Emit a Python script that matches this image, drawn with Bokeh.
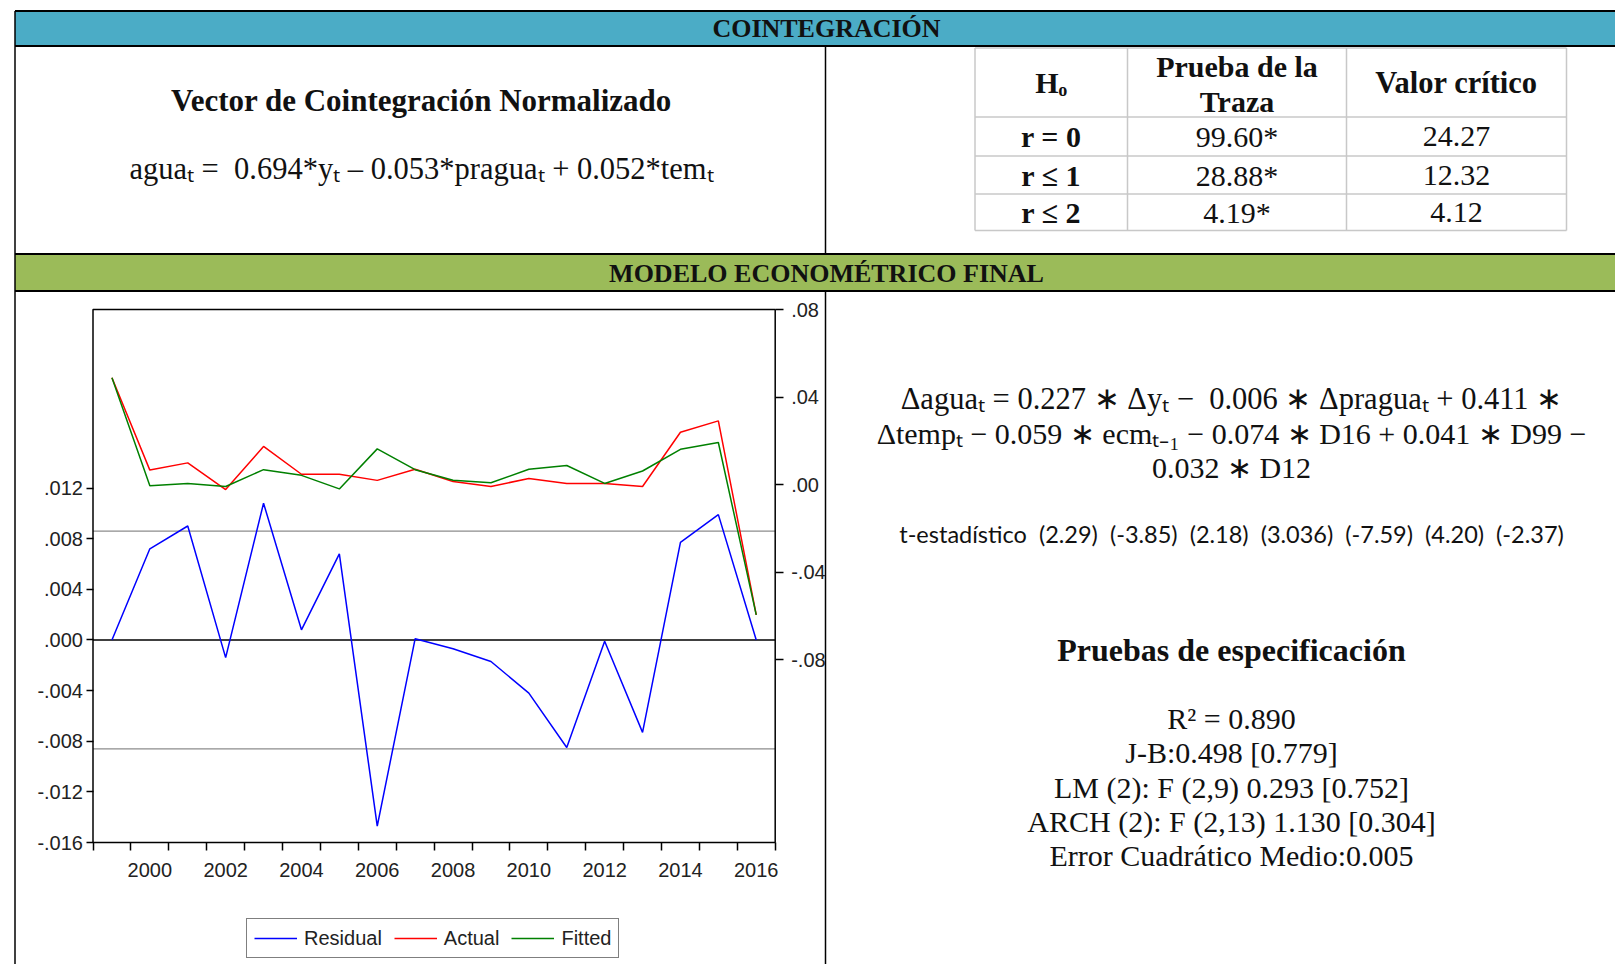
from bokeh.plotting import figure
from bokeh.models import (Range1d, LinearAxis, FixedTicker, CustomJSTickFormatter,
                          Label, Legend, LegendItem, BoxAnnotation)
from bokeh.embed import file_html
from bokeh.resources import INLINE

# ---------------- data ----------------
years = [1999, 2000, 2001, 2002, 2003, 2004, 2005, 2006, 2007, 2008,
         2009, 2010, 2011, 2012, 2013, 2014, 2015, 2016]
residual = [0.0000, 0.0072, 0.0090, -0.0014, 0.0108, 0.0008, 0.0068, -0.0147, 0.0001,
            -0.0007, -0.0017, -0.0042, -0.0085, -0.0001, -0.0073, 0.0077, 0.0099, 0.0000]
actual = [0.0488, 0.0066, 0.0099, -0.0023, 0.0174, 0.0047, 0.0047, 0.0019, 0.0070,
          0.0014, -0.0009, 0.0028, 0.0005, 0.0005, -0.0009, 0.0239, 0.0291, -0.0596]
fitted = [0.0488, -0.0005, 0.0005, -0.0009, 0.0068, 0.0042, -0.0020, 0.0163, 0.0068,
          0.0020, 0.0008, 0.0070, 0.0087, 0.0005, 0.0062, 0.0161, 0.0192, -0.0596]
resid_se = 0.0086
series_names = ["Residual", "Actual", "Fitted"]

res_ticks = [-0.016, -0.012, -0.008, -0.004, 0.0, 0.004, 0.008, 0.012]
res_tick_labels = ["-.016", "-.012", "-.008", "-.004", ".000", ".004", ".008", ".012"]
act_ticks = [-0.08, -0.04, 0.0, 0.04, 0.08]
act_tick_labels = ["-.08", "-.04", ".00", ".04", ".08"]
year_labels = [2000, 2002, 2004, 2006, 2008, 2010, 2012, 2014, 2016]

h0_labels = ["r = 0", "r \u2264 1", "r \u2264 2"]
trace_stats = ["99.60*", "28.88*", "4.19*"]
crit_values = ["24.27", "12.32", "4.12"]
t_stats = ["2.29", "-3.85", "2.18", "3.036", "-7.59", "4.20", "-2.37"]
spec_tests = ["R\u00b2 = 0.890", "J-B:0.498 [0.779]", "LM (2): F (2,9) 0.293 [0.752]",
              "ARCH (2): F (2,13) 1.130 [0.304]", "Error Cuadr\u00e1tico Medio:0.005"]

# ---------------- layout constants (page pixels) ----------------
W, H = 1615, 964
X0, Y0 = 0, 0
LEFT, RIGHT, DIV = 14.5, X0 + W, 825
B1_T, B1_B = 10.5, 45.5
B2_T, B2_B = 253.5, 290.5
BOTTOM = Y0 + H

SERIF = "Liberation Serif"
SANS = "Liberation Sans"

# chart frame in page pixels and its value ranges
CH_L, CH_R, CH_T, CH_B = 92.5, 774.7, 309.0, 842.0
YR_LO, YR_HI = 1998.5, 2016.5
RES_LO, RES_HI = -0.016, 0.0261
ACT_LO, ACT_HI = -0.1636, 0.08


def frame_range(lo, hi, p_lo, p_hi, c_lo, c_hi):
    u = (hi - lo) / (p_hi - p_lo)
    return Range1d(start=lo + (c_lo - p_lo) * u, end=lo + (c_hi - p_lo) * u)


p = figure(width=W, height=H, x_range=Range1d(X0, X0 + W), y_range=Range1d(Y0 + H, Y0),
           x_axis_type=None, y_axis_type=None, output_backend="svg",
           toolbar_location=None, min_border=0, outline_line_color=None,
           background_fill_color="white", border_fill_color="white")

p.extra_x_ranges = {"yr": frame_range(YR_LO, YR_HI, CH_L, CH_R, X0, X0 + W)}
p.extra_y_ranges = {
    "res": frame_range(RES_LO, RES_HI, CH_B, CH_T, Y0 + H, Y0),
    "act": frame_range(ACT_LO, ACT_HI, CH_B, CH_T, Y0 + H, Y0),
}

# ---------------- table structure ----------------
p.quad(left=[LEFT, LEFT], right=[RIGHT, RIGHT], top=[B1_T, B2_T], bottom=[B1_B, B2_B],
       fill_color=["#4BACC6", "#9BBB59"], line_color=None)
p.segment(x0=[LEFT] * 4, x1=[RIGHT] * 4, y0=[B1_T, B1_B, B2_T, B2_B], y1=[B1_T, B1_B, B2_T, B2_B],
          line_color="black", line_width=2)
p.segment(x0=[LEFT, DIV, DIV], x1=[LEFT, DIV, DIV], y0=[B1_T, B1_B, B2_B], y1=[BOTTOM, B2_T, BOTTOM],
          line_color="black", line_width=1.5)

# small cointegration table
TX = [974.5, 1127, 1346, 1566]
TY = [47.5, 116.5, 155.5, 193.5, 230]
p.segment(x0=[TX[0]] * len(TY), x1=[TX[-1]] * len(TY), y0=TY, y1=TY, line_color="#C8C8C8", line_width=1.5)
p.segment(x0=TX, x1=TX, y0=[TY[0]] * len(TX), y1=[TY[-1]] * len(TX), line_color="#C8C8C8", line_width=1.5)


def txt(x, y, text, size, style="normal", font=SERIF, align="center", color="#111111"):
    p.add_layout(Label(x=x, y=y, text=text, text_font=font, text_font_size=f"{size}px",
                       text_font_style=style, text_align=align, text_baseline="middle",
                       text_color=color))


txt(826, 28, "COINTEGRACI\u00d3N", 26, "bold")
txt(826, 273, "MODELO ECONOM\u00c9TRICO FINAL", 26, "bold")

txt(421, 100, "Vector de Cointegraci\u00f3n Normalizado", 31, "bold")
txt(421, 168, "agua\u209c =\u00a0 0.694*y\u209c \u2013 0.053*pragua\u209c + 0.052*tem\u209c", 30.5)

cx = [(TX[i] + TX[i + 1]) / 2 for i in range(3)]
txt(cx[0], 82, "H\u2092", 30, "bold")
txt(cx[1], 66, "Prueba de la", 30, "bold")
txt(cx[1], 101, "Traza", 30, "bold")
txt(cx[2], 82, "Valor cr\u00edtico", 30.5, "bold")
row_y = [(TY[i] + TY[i + 1]) / 2 for i in range(1, 4)]
for ry, h0, ts, cv in zip(row_y, h0_labels, trace_stats, crit_values):
    txt(cx[0], ry, h0, 30, "bold")
    txt(cx[1], ry, ts, 30)
    txt(cx[2], ry, cv, 30)

# right lower cell
RC = 1231
txt(RC, 398, "\u0394agua\u209c = 0.227 \u2217 \u0394y\u209c \u2212\u00a0 0.006 \u2217 \u0394pragua\u209c + 0.411 \u2217", 30.5)
txt(RC, 433, "\u0394temp\u209c \u2212 0.059 \u2217 ecm\u209c\u208b\u2081 \u2212 0.074 \u2217 D16 + 0.041 \u2217 D99 \u2212", 30)
txt(RC, 467, "0.032 \u2217 D12", 30)
txt(RC, 533, "t-estad\u00edstico\u00a0 " + "\u00a0 ".join(f"({t})" for t in t_stats), 23.5, font="Lato")
txt(RC, 649, "Pruebas de especificaci\u00f3n", 32, "bold")
for i, s in enumerate(spec_tests):
    txt(RC, 718 + i * 34.3, s, 30)

# ---------------- chart ----------------
p.add_layout(BoxAnnotation(left=YR_LO, right=YR_HI, bottom=RES_LO, top=RES_HI,
                           x_range_name="yr", y_range_name="res",
                           fill_color=None, fill_alpha=0, line_color="black", line_alpha=1,
                           line_width=1.5))
p.segment(x0=[YR_LO, YR_LO], x1=[YR_HI, YR_HI], y0=[resid_se, -resid_se], y1=[resid_se, -resid_se],
          x_range_name="yr", y_range_name="res", line_color="#8C8C8C", line_width=1.2)
p.segment(x0=[YR_LO], x1=[YR_HI], y0=[0], y1=[0], x_range_name="yr", y_range_name="res",
          line_color="black", line_width=1.5)

r_res = p.line(years, residual, x_range_name="yr", y_range_name="res", line_color="#0000FF", line_width=1.5)
r_act = p.line(years, actual, x_range_name="yr", y_range_name="act", line_color="#FF0000", line_width=1.5)
r_fit = p.line(years, fitted, x_range_name="yr", y_range_name="act", line_color="#008000", line_width=1.5)

axis_style = dict(major_label_text_font=SANS, major_label_text_font_size="20px",
                  major_label_text_color="#222222", minor_tick_line_color=None,
                  major_tick_in=0, major_tick_line_width=1.5, major_tick_line_color="black",
                  axis_line_color=None)

ax_l = LinearAxis(x_range_name="yr", y_range_name="res", fixed_location=YR_LO,
                  bounds=(res_ticks[0], res_ticks[-1]), ticker=FixedTicker(ticks=res_ticks),
                  major_label_overrides=dict(zip(res_ticks, res_tick_labels)),
                  major_tick_out=7, major_label_standoff=3, **axis_style)
p.add_layout(ax_l, "left")

ax_r = LinearAxis(x_range_name="yr", y_range_name="act", fixed_location=YR_HI,
                  bounds=(act_ticks[0], act_ticks[-1]), ticker=FixedTicker(ticks=act_ticks),
                  major_label_overrides=dict(zip(act_ticks, act_tick_labels)),
                  major_tick_out=8, major_label_standoff=8, **axis_style)
p.add_layout(ax_r, "right")

ax_b_ticks = LinearAxis(x_range_name="yr", y_range_name="res", fixed_location=RES_LO,
                        bounds=(YR_LO, YR_HI),
                        ticker=FixedTicker(ticks=[y - 0.5 for y in years] + [years[-1] + 0.5]),
                        formatter=CustomJSTickFormatter(code="return ''"),
                        major_tick_out=8, major_label_standoff=0, **axis_style)
p.add_layout(ax_b_ticks, "below")

ax_b = LinearAxis(x_range_name="yr", y_range_name="res", fixed_location=RES_LO,
                  bounds=(YR_LO, YR_HI), ticker=FixedTicker(ticks=year_labels),
                  major_tick_out=0, major_label_standoff=20,
                  **{**axis_style, "major_tick_line_color": None})
p.add_layout(ax_b, "below")

legend = Legend(items=[LegendItem(label=n, renderers=[r]) for n, r in zip(series_names, [r_res, r_act, r_fit])],
                orientation="horizontal", location=(246 - X0, BOTTOM - 958),
                border_line_color="black", border_line_width=1.5, background_fill_color="white",
                padding=7, spacing=12, glyph_width=43, glyph_height=24, label_standoff=7,
                label_text_font=SANS, label_text_font_size="20px", label_text_color="#222222",
                margin=0)
p.add_layout(legend)

open("out.html", "w").write(file_html(p, INLINE))
